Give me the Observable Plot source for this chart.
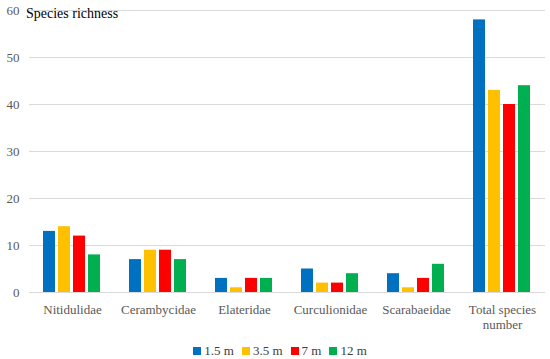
<!DOCTYPE html>
<html>
<head>
<meta charset="utf-8">
<script src="https://cdn.jsdelivr.net/npm/d3@7"></script>
<script src="https://cdn.jsdelivr.net/npm/@observablehq/plot@0.6"></script>
<style>
  html, body { margin: 0; padding: 0; background: #fff; overflow: hidden; }
  #wrap { position: relative; width: 550px; height: 359px; font-family: "Liberation Serif", serif; }
  #title { position: absolute; left: 26px; top: 6px; font-size: 14px; color: #000; font-family: "Liberation Serif", serif; }
  #legend { position: absolute; left: 9px; top: 342px; width: 550px; height: 18px; display: flex; justify-content: center; align-items: center; }
  #legend > div { margin: 0 !important; min-height: 0 !important; }
  #legend [class*="-swatch"]:not([class*="swatches"]) { margin-right: 8px !important; font-family: "Liberation Serif", serif; }
  #legend [class*="-swatch"]:not([class*="swatches"]) > svg { margin-right: 3px !important; }
  svg text { font-family: "Liberation Serif", serif; }
</style>
</head>
<body>
<div id="wrap"><div id="chart"></div><div id="title">Species richness</div><div id="legend"></div></div>
<script>
const categories = ["Nitidulidae", "Cerambycidae", "Elateridae", "Curculionidae", "Scarabaeidae", "Total species\nnumber"];
const series = ["1.5 m", "3.5 m", "7 m", "12 m"];
const colors = ["#0070C0", "#FFC000", "#FF0000", "#00B050"];
const v15 = [13, 7, 3, 5, 4, 58];
const v35 = [14, 9, 1, 2, 1, 43];
const v7 = [12, 9, 3, 2, 3, 40];
const v12 = [8, 7, 3, 4, 6, 44];
const yTicks = [0, 10, 20, 30, 40, 50, 60];

const valuesBySeries = [v15, v35, v7, v12];
const data = [];
categories.forEach((c, i) => series.forEach((s, j) => data.push({category: c, series: s, value: valuesBySeries[j][i]})));

const chart = Plot.plot({
  width: 550,
  height: 338,
  marginLeft: 28,
  marginRight: 5,
  marginTop: 10,
  marginBottom: 46,
  style: {fontFamily: "Liberation Serif, serif", fontSize: "13px", color: "#595959", background: "#fff"},
  fx: {domain: categories, padding: 0, label: null},
  x: {domain: series, axis: null, paddingInner: 0.18, paddingOuter: 0.85},
  y: {domain: [0, 60], ticks: yTicks, axis: null},
  color: {domain: series, range: colors},
  marks: [
    Plot.gridY(yTicks, {stroke: "#d9d9d9", strokeOpacity: 1}),
    Plot.axisY(yTicks, {tickSize: 0, tickPadding: 10, label: null, facetAnchor: "left"}),
    Plot.axisFx({anchor: "bottom", tickSize: 0, tickPadding: 11, label: null, lineHeight: 1.15}),
    Plot.barY(data, {fx: "category", x: "series", y: "value", fill: "series"})
  ]
});
document.getElementById("chart").appendChild(chart);

const leg = Plot.legend({color: {domain: series, range: colors}, legend: "swatches", swatchSize: 8, style: {fontFamily: "Liberation Serif, serif", fontSize: "13px", color: "#404040"}});
document.getElementById("legend").appendChild(leg);
</script>
</body>
</html>
